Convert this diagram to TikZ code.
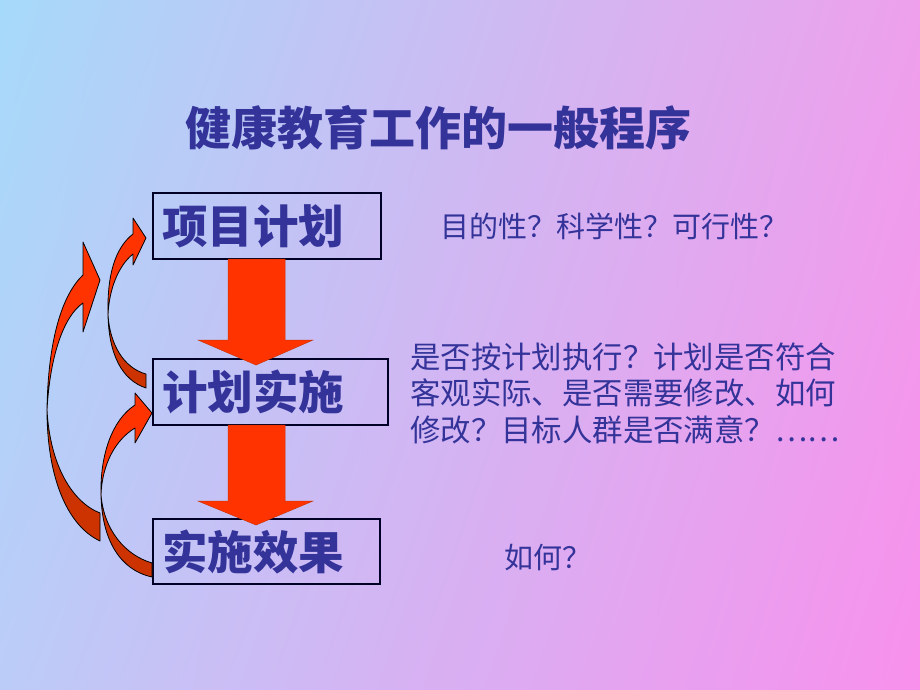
\documentclass[tikz,border=0pt]{standalone}
\usepackage{fontspec}
\usetikzlibrary{shadings}
\newfontfamily\cjk{Noto Sans CJK SC}
\definecolor{txt}{HTML}{333399}
\definecolor{arr}{HTML}{FF3300}
\definecolor{arrd}{HTML}{CC3300}
\definecolor{bgUL}{HTML}{A6DAFA}
\definecolor{bgUR}{HTML}{EEA0EC}
\definecolor{bgLL}{HTML}{BCCCF8}
\definecolor{bgLR}{HTML}{F890EC}
\tikzset{
  box/.style={draw=black!85!blue, line width=1.2pt, inner xsep=9pt, inner ysep=0pt,
    minimum height=66pt, align=left, text=txt,
    font={\cjk\bfseries\fontsize{45.5}{48}\selectfont}},
  bigarrow/.style={fill=arr, draw=arrd, line width=0.5pt},
  curvebright/.style={fill=arr, draw=black, line width=0.8pt, line join=round},
  curvedark/.style={fill=arrd, draw=black, line width=0.8pt, line join=round},
  note/.style={text=txt, inner sep=0pt, anchor=west, align=left},
}
\begin{document}
\begin{tikzpicture}[x=1pt, y=-1pt]
\useasboundingbox (0,0) rectangle (920,690);
\shade[upper left=bgUL, upper right=bgUR, lower left=bgLL, lower right=bgLR] (0,0) rectangle (920,690);

% title
\node[note, font={\cjk\bfseries\fontsize{46}{50}\selectfont}] (title) at (185,128) {健康教育工作的一般程序};

% boxes
\node[box, text width=210pt] (b1) at (267,226) {项目计划};
\node[box, text width=217pt] (b2) at (270.5,392) {计划实施};
\node[box, text width=209pt, minimum height=65pt] (b3) at (266.5,551.5) {实施效果};

% down arrows
\draw[bigarrow] (228,259) -- (285,259) -- (285,340) -- (313,340) -- (256,365) -- (198,340) -- (228,340) -- cycle;
\draw[bigarrow] (228,425) -- (285,425) -- (285,501) -- (313,501) -- (256,525) -- (198,501) -- (228,501) -- cycle;

% outer curved arrow (b3 -> b1)
\draw[curvedark] (47,410) .. controls (47,475) and (66,525) .. (100,541) -- (100,513) .. controls (72,502) and (50,465) .. (47,410) -- cycle;
\draw[curvebright] (47,410) .. controls (48,340) and (62,295) .. (83,275) -- (83,242) -- (100,280) -- (83,332) -- (83,303) .. controls (64,316) and (50,355) .. (47,410) -- cycle;

% lower inner curved arrow (b3 -> b2)
\draw[curvedark] (101,495) .. controls (102,540) and (120,570) .. (152,577) -- (152,563) .. controls (125,555) and (104,530) .. (101,495) -- cycle;
\draw[curvebright] (101,495) .. controls (100,455) and (112,420) .. (135,405) -- (135,393) -- (152,413) -- (135,443) -- (135,428) .. controls (115,440) and (102,465) .. (101,495) -- cycle;

% upper inner curved arrow (b2 -> b1)
\draw[curvedark] (108,315) .. controls (109,355) and (122,380) .. (146,388) -- (146,374) .. controls (124,368) and (110,345) .. (108,315) -- cycle;
\draw[curvebright] (108,315) .. controls (107,275) and (115,248) .. (133,234) -- (133,218) -- (146,238) -- (133,265) -- (133,254) .. controls (118,266) and (109,290) .. (108,315) -- cycle;

% notes
\node[note, font={\cjk\fontsize{29}{34}\selectfont}] (n1) at (440,226) {目的性？科学性？可行性？};
\node[note, font={\cjk\fontsize{30.4}{36.5}\selectfont}] (n2) at (410,393) {是否按计划执行？计划是否符合\\客观实际、是否需要修改、如何\\修改？目标人群是否满意？……};
\node[note, font={\cjk\fontsize{29}{34}\selectfont}] (n3) at (504,558) {如何？};
\end{tikzpicture}
\end{document}
